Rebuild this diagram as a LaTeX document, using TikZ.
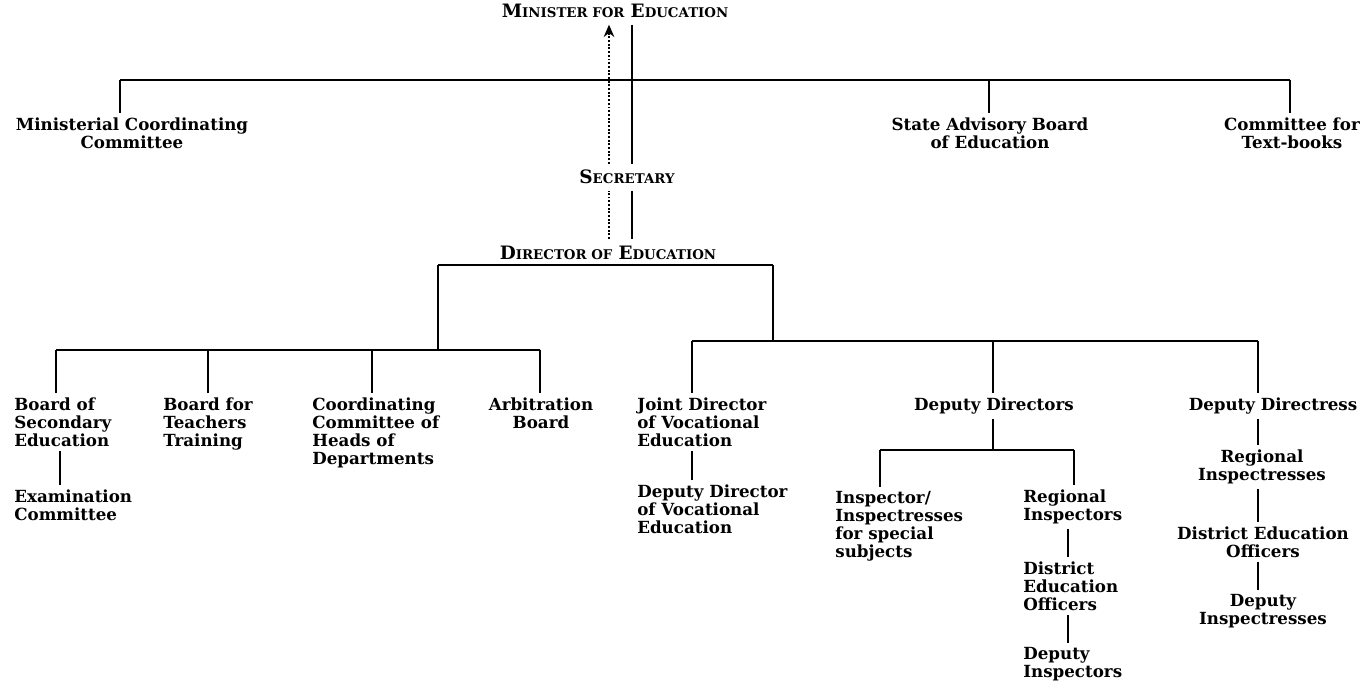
\documentclass[tikz,border=0pt]{standalone}
\usepackage{fontspec}
\setmainfont{DejaVu Serif}
\usetikzlibrary{arrows.meta}
\newcommand{\capsc}[2]{{\fontsize{10.5pt}{12pt}\selectfont #1}{\fontsize{7.6pt}{12pt}\selectfont #2}}

\begin{document}
\begin{tikzpicture}[
    x=0.02cm, y=-0.02cm,
    % Define styles
    office/.style={font=\bfseries, inner xsep=0pt, inner ysep=3.5pt, anchor=base},
    unit/.style={font=\fontsize{9.5pt}{10.2pt}\selectfont\bfseries, align=center, inner xsep=0pt, inner ysep=2.5pt, anchor=north},
    unitleft/.style={unit, align=left, anchor=north west},
    line/.style={-, line width=1.3pt},
    dotline/.style={densely dotted, line width=1.1pt},
    arrow/.style={-{Stealth[length=7pt,width=6pt]}}
]
\useasboundingbox (0,0) rectangle (1372,682);

% Top offices
\node[office] (minister) at (615,18) {\capsc{M}{INISTER FOR} \capsc{E}{DUCATION}};
\node[office] (secretary) at (627,184) {\capsc{S}{ECRETARY}};
\node[office] (director) at (608,259) {\capsc{D}{IRECTOR OF} \capsc{E}{DUCATION}};
\coordinate (solid) at (632,0);
\coordinate (dotted) at (609,0);

% Bodies under the Minister
\node[unit] (mcc) at (132,113) {Ministerial Coordinating\\Committee};
\node[unit] (sabe) at (990,113) {State Advisory Board\\of Education};
\node[unit] (cft) at (1292,113) {Committee for\\Text-books};

% Advisory bodies under the Director
\node[unitleft] (bse) at (14,393) {Board of\\Secondary\\Education};
\node[unitleft] (exam) at (14,485) {Examination\\Committee};
\node[unitleft] (btt) at (163,393) {Board for\\Teachers\\Training};
\node[unitleft] (cchd) at (312,393) {Coordinating\\Committee of\\Heads of\\Departments};
\node[unit] (arb) at (541,393) {Arbitration\\Board};

% Executive line under the Director
\node[unitleft] (jdve) at (637,393) {Joint Director\\of Vocational\\Education};
\node[unitleft] (ddve) at (637,480) {Deputy Director\\of Vocational\\Education};
\node[unit] (ddirs) at (994,393) {Deputy Directors};
\node[unitleft] (insp) at (835,487) {Inspector/\\Inspectresses\\for special\\subjects};
\node[unitleft] (rinsp) at (1023,485) {Regional\\Inspectors};
\node[unitleft] (deo) at (1023,557) {District\\Education\\Officers};
\node[unitleft] (dinsp) at (1023,643) {Deputy\\Inspectors};
\node[unit] (ddress) at (1273,393) {Deputy Directress};
\node[unit] (rinspr) at (1262,445) {Regional\\Inspectresses};
\node[unit] (deor) at (1263,522) {District Education\\Officers};
\node[unit] (dinspr) at (1263,590) {Deputy\\Inspectresses};

% Bus lines and taps
\coordinate (bus_min_w) at (120,80);
\coordinate (bus_min_e) at (1290,80);
\coordinate (tap_sabe) at (989,80);
\coordinate (bus_dir_w) at (438,265);
\coordinate (bus_dir_e) at (773,265);
\coordinate (bus_adv_w) at (56,350);
\coordinate (bus_adv_e) at (540,350);
\coordinate (tap_btt) at (208,350);
\coordinate (tap_cchd) at (372,350);
\coordinate (tap_exam) at (60,0);
\coordinate (bus_exe_w) at (692,341);
\coordinate (bus_exe_e) at (1258,341);
\coordinate (tap_ddirs) at (993,341);
\coordinate (bus_dd_w) at (880,450);
\coordinate (bus_dd_e) at (1074,450);
\coordinate (tap_rinsp) at (1068,0);

% Minister, Secretary and Director
\draw[line] (minister.south -| solid) -- (secretary.north -| solid);
\draw[line] (secretary.south -| solid) -- (director.north -| solid);
\draw[dotline, arrow] (secretary.north -| dotted) -- (minister.south -| dotted);
\draw[dotline] (director.north -| dotted) -- (secretary.south -| dotted);

% Connect the Minister to his bodies
\draw[line] (bus_min_w) -- (bus_min_e);
\draw[line] (bus_min_w) -- (bus_min_w |- mcc.north);
\draw[line] (tap_sabe) -- (tap_sabe |- sabe.north);
\draw[line] (bus_min_e) -- (bus_min_e |- cft.north);

% Connect the Director to the advisory bodies
\draw[line] (bus_dir_w) -- (bus_dir_e);
\draw[line] (bus_dir_w) -- (bus_dir_w |- bus_adv_w);
\draw[line] (bus_adv_w) -- (bus_adv_e);
\draw[line] (bus_adv_w) -- (bus_adv_w |- bse.north);
\draw[line] (tap_btt) -- (tap_btt |- btt.north);
\draw[line] (tap_cchd) -- (tap_cchd |- cchd.north);
\draw[line] (bus_adv_e) -- (bus_adv_e |- arb.north);
\draw[line] (bse.south -| tap_exam) -- (exam.north -| tap_exam);

% Connect the Director to the executive line
\draw[line] (bus_dir_e) -- (bus_dir_e |- bus_exe_w);
\draw[line] (bus_exe_w) -- (bus_exe_e);
\draw[line] (bus_exe_w) -- (bus_exe_w |- jdve.north);
\draw[line] (jdve.south -| bus_exe_w) -- (ddve.north -| bus_exe_w);
\draw[line] (tap_ddirs) -- (tap_ddirs |- ddirs.north);
\draw[line] (ddirs.south -| tap_ddirs) -- (tap_ddirs |- bus_dd_w);
\draw[line] (bus_dd_w) -- (bus_dd_e);
\draw[line] (bus_dd_w) -- (bus_dd_w |- insp.north);
\draw[line] (bus_dd_e) -- (bus_dd_e |- rinsp.north);
\draw[line] (rinsp.south -| tap_rinsp) -- (deo.north -| tap_rinsp);
\draw[line] (deo.south -| tap_rinsp) -- (dinsp.north -| tap_rinsp);

% Deputy Directress and her line
\draw[line] (bus_exe_e) -- (bus_exe_e |- ddress.north);
\draw[line] (ddress.south -| bus_exe_e) -- (rinspr.north -| bus_exe_e);
\draw[line] (rinspr.south -| bus_exe_e) -- (deor.north -| bus_exe_e);
\draw[line] (deor.south -| bus_exe_e) -- (dinspr.north -| bus_exe_e);

\end{tikzpicture}
\end{document}
